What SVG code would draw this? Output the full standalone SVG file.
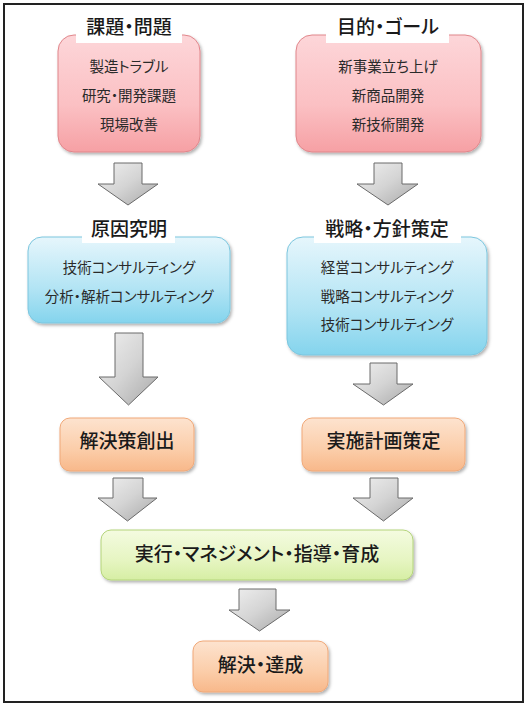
<svg xmlns="http://www.w3.org/2000/svg" width="529" height="706" viewBox="0 0 529 706">
<style>
text{font-family:"Noto Sans CJK JP","Noto Sans CJK SC",sans-serif;fill:#1a1a1a;text-anchor:middle;font-feature-settings:"palt" 1;}
.t{font-size:19px;font-weight:500;}
.s{font-size:14.5px;fill:#2a2a2a;}
.l{font-size:19px;font-weight:500;}
.arr{fill:url(#gGray);stroke:#6a6a6a;stroke-width:1;}
.box{filter:url(#sh);}
</style>
<defs>
<linearGradient id="gPink" x1="0" y1="0" x2="0" y2="1"><stop offset="0" stop-color="#fdd6d9"/><stop offset="0.6" stop-color="#fbc0c3"/><stop offset="1" stop-color="#f6a0a4"/></linearGradient>
<linearGradient id="gBlue" x1="0" y1="0" x2="0" y2="1"><stop offset="0" stop-color="#e6f6fc"/><stop offset="0.6" stop-color="#b2e4f4"/><stop offset="1" stop-color="#84d4ed"/></linearGradient>
<linearGradient id="gOrange" x1="0" y1="0" x2="0" y2="1"><stop offset="0" stop-color="#fde3cf"/><stop offset="0.6" stop-color="#fbcda9"/><stop offset="1" stop-color="#f8b88a"/></linearGradient>
<linearGradient id="gGreen" x1="0" y1="0" x2="0" y2="1"><stop offset="0" stop-color="#f4fbe0"/><stop offset="0.6" stop-color="#e6f5c2"/><stop offset="1" stop-color="#d6eea4"/></linearGradient>
<linearGradient id="gGray" x1="0" y1="0" x2="1" y2="1"><stop offset="0" stop-color="#f0f0f0"/><stop offset="0.5" stop-color="#d4d4d4"/><stop offset="1" stop-color="#a8a8a8"/></linearGradient>
<filter id="sh" x="-10%" y="-10%" width="125%" height="130%"><feDropShadow dx="1.5" dy="2" stdDeviation="1.5" flood-color="#000" flood-opacity="0.3"/></filter>
</defs>
<rect x="4" y="4" width="519" height="698" fill="#fff" stroke="#222" stroke-width="2"/>
<g id="connectors">
<path class="arr" d="M114,163 H142 V184 H158 L128,205 L98,184 H114 Z"/>
<path class="arr" d="M374,163 H402 V184 H418 L388,205 L357,184 H374 Z"/>
<path class="arr" d="M115,333 H143 V377 H158 L128.5,405 L99,377 H115 Z"/>
<path class="arr" d="M370,363 H397 V384 H413 L383.5,405 L353,384 H370 Z"/>
<path class="arr" d="M113,478 H143 V498 H157 L127.5,521 L98,498 H113 Z"/>
<path class="arr" d="M370,478 H398 V498 H413 L383.5,521 L353,498 H370 Z"/>
<path class="arr" d="M239,589 H276 V610 H290 L259.5,631 L229,610 H239 Z"/>
</g>
<g id="n1">
<rect class="box" x="58" y="35" width="142" height="117" rx="16" fill="url(#gPink)" stroke="#e0868b" stroke-width="1"/>
<rect x="76" y="14" width="106" height="29" fill="#fff"/>
<text class="t" x="129" y="34">課題・問題</text>
<text class="s" x="129" y="72">製造トラブル</text>
<text class="s" x="129" y="101">研究・開発課題</text>
<text class="s" x="129" y="130">現場改善</text>
</g>
<g id="n2">
<rect class="box" x="296" y="35" width="185" height="117" rx="16" fill="url(#gPink)" stroke="#e0868b" stroke-width="1"/>
<rect x="326" y="14" width="123" height="29" fill="#fff"/>
<text class="t" x="388" y="34">目的・ゴール</text>
<text class="s" x="388" y="72">新事業立ち上げ</text>
<text class="s" x="388" y="101">新商品開発</text>
<text class="s" x="388" y="130">新技術開発</text>
</g>
<g id="n3">
<rect class="box" x="28" y="237" width="202" height="86" rx="14" fill="url(#gBlue)" stroke="#7cc6de" stroke-width="1"/>
<rect x="82" y="213" width="93" height="30" fill="#fff"/>
<text class="t" x="129" y="236">原因究明</text>
<text class="s" x="129" y="273">技術コンサルティング</text>
<text class="s" x="129" y="302">分析・解析コンサルティング</text>
</g>
<g id="n4">
<rect class="box" x="287" y="237" width="200" height="118" rx="16" fill="url(#gBlue)" stroke="#7cc6de" stroke-width="1"/>
<rect x="314" y="213" width="147" height="30" fill="#fff"/>
<text class="t" x="387" y="236">戦略・方針策定</text>
<text class="s" x="387" y="273">経営コンサルティング</text>
<text class="s" x="387" y="302">戦略コンサルティング</text>
<text class="s" x="387" y="330">技術コンサルティング</text>
</g>
<g id="n5">
<rect class="box" x="60" y="418" width="134" height="53" rx="10" fill="url(#gOrange)" stroke="#f0a878" stroke-width="1"/>
<text class="l" x="127" y="448">解決策創出</text>
</g>
<g id="n6">
<rect class="box" x="302" y="418" width="163" height="53" rx="10" fill="url(#gOrange)" stroke="#f0a878" stroke-width="1"/>
<text class="l" x="383.5" y="448">実施計画策定</text>
</g>
<g id="n7">
<rect class="box" x="101" y="530" width="312" height="50" rx="10" fill="url(#gGreen)" stroke="#b4d47a" stroke-width="1"/>
<text class="l" x="257" y="561">実行・マネジメント・指導・育成</text>
</g>
<g id="n8">
<rect class="box" x="193" y="641" width="135" height="51" rx="10" fill="url(#gOrange)" stroke="#f0a878" stroke-width="1"/>
<text class="l" x="260.5" y="672">解決・達成</text>
</g>
</svg>
